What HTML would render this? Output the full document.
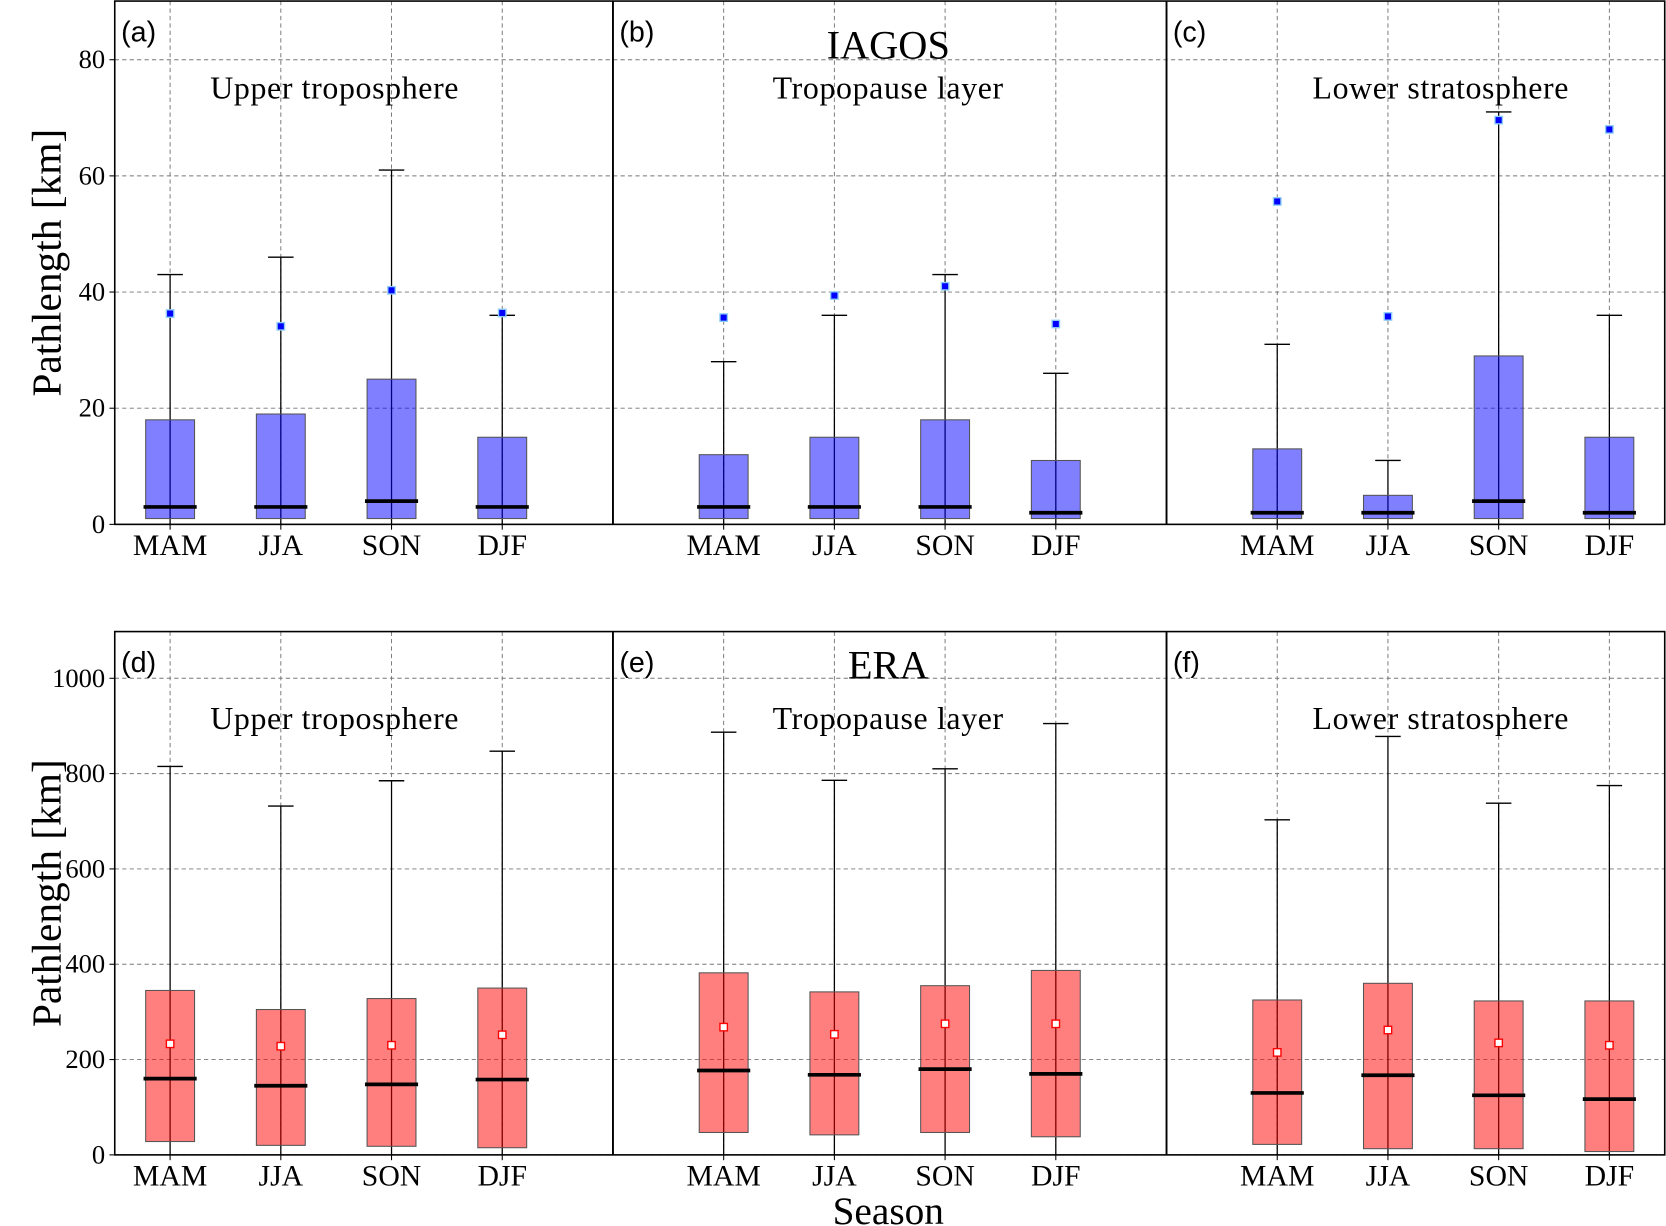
<!DOCTYPE html>
<html><head><meta charset="utf-8"><style>
html,body{margin:0;padding:0;background:#fff}
svg{display:block}
text{font-family:"Liberation Serif",serif;fill:#000}
.sans{font-family:"Liberation Sans",sans-serif}
</style></head><body>
<svg id="fig" width="1666" height="1226" viewBox="0 0 1568 1155" preserveAspectRatio="none"></svg>
<script>
const seasons = ["MAM","JJA","SON","DJF"];
const panelLetters = ["(a)","(b)","(c)","(d)","(e)","(f)"];
const regionTitles = ["Upper troposphere","Tropopause layer","Lower stratosphere"];
// IAGOS (top): per panel per season
const topWhiskerHi = [[43,46,61,36],[28,36,43,26],[31,11,71,36]];
const topQ3 = [[18,19,25,15],[12,15,18,11],[13,5,29,15]];
const topMedian = [[3,3,4,3],[3,3,3,2],[2,2,4,2]];
const topQ1 = [[1,1,1,1],[1,1,1,1],[1,1,1,1]];
const topMean = [[36.3,34.1,40.3,36.4],[35.6,39.4,41,34.5],[55.6,35.8,69.6,68]];
const topTicks = [0,20,40,60,80];
// ERA (bottom)
const botWhiskerHi = [[815,732,785,847],[887,786,810,905],[703,878,738,775]];
const botQ3 = [[345,305,328,350],[382,342,355,387],[325,360,323,323]];
const botMedian = [[160,145,148,158],[177,168,180,170],[130,167,125,117]];
const botQ1 = [[28,20,18,15],[47,42,47,38],[22,13,13,7]];
const botMean = [[233,228,230,252],[268,253,275,275],[215,262,235,230]];
const botTicks = [0,200,400,600,800,1000];

const NS="http://www.w3.org/2000/svg";
const svg=document.getElementById('fig');
function mk(tag,attrs,parent,txt){const e=document.createElementNS(NS,tag);for(const k in attrs)e.setAttribute(k,attrs[k]);if(txt!==undefined)e.textContent=txt;(parent||svg).appendChild(e);return e;}
const X0=108,U=104.2;
function xPos(p){return X0+p*U;}
function catPos(panel,i){return panel*5+0.5+i;}

function drawRow(cfg){
  const {yTop,yBot,yMax,ticks,whi,q3,med,q1,mean,fill,meanFill,meanStroke,letters,title,ylab,row,titleY}=cfg;
  const y=v=>yBot-(v/yMax)*(yBot-yTop);
  const xEnd=xPos(14);
  const g=mk('g',{});
  
  
  ticks.forEach(t=>{
    const l=mk('line',{x1:X0,x2:xEnd,y1:y(t),y2:y(t),stroke:'#777','stroke-width':0.9,'stroke-dasharray':'4,3'},g);
    
    const tk=mk('line',{x1:X0-5,x2:X0,y1:y(t),y2:y(t),stroke:'#000','stroke-width':1},g);
    
    const tx=mk('text',{x:X0-9,y:y(t)+8,'text-anchor':'end','font-size':25},g,String(t));
    
  });
  for(let p=0;p<3;p++){
    seasons.forEach((s,i)=>{
      const cx=xPos(catPos(p,i));
      const gl=mk('line',{x1:cx,x2:cx,y1:yTop,y2:yBot,stroke:'#777','stroke-width':0.9,'stroke-dasharray':'4,3'},g);
      
      const tk=mk('line',{x1:cx,x2:cx,y1:yBot,y2:yBot+5,stroke:'#000','stroke-width':1},g);
      
      const lb=mk('text',{x:cx,y:yBot+29,'text-anchor':'middle','font-size':28},g,s);
      
      const hw=23;
      const wl=mk('line',{x1:cx,x2:cx,y1:y(whi[p][i]),y2:y(0),stroke:'#000','stroke-width':1.2},g);
      
      const cap=mk('line',{x1:cx-12,x2:cx+12,y1:y(whi[p][i]),y2:y(whi[p][i]),stroke:'#000','stroke-width':1.3},g);
      
      const bx=mk('rect',{x:cx-hw,y:y(q3[p][i]),width:2*hw,height:y(q1[p][i])-y(q3[p][i]),fill:fill,'fill-opacity':0.5,stroke:'#555','stroke-width':1},g);
      
      const md=mk('line',{x1:cx-25,x2:cx+25,y1:y(med[p][i]),y2:y(med[p][i]),stroke:'#000','stroke-width':3.5},g);
      
      const mn=mk('rect',{x:cx-3.5,y:y(mean[p][i])-3.5,width:7,height:7,fill:meanFill,stroke:meanStroke,'stroke-width':1.3},g);
      
    });
    const lx=p===0?X0:xPos(p*5-0.5);
    const lt=mk('text',{x:lx+6,y:yTop+38,'font-size':27,class:'sans'},g,letters[p]);
    
    const rt=mk('text',{x:[315,836,1356][p],y:yTop+92,'text-anchor':'middle','font-size':30,'letter-spacing':0.6},g,regionTitles[p]);
    
  }
  const tt=mk('text',{x:836,y:titleY,'text-anchor':'middle','font-size':38},g,title);
  
  const fr=mk('rect',{x:X0,y:yTop,width:xEnd-X0,height:yBot-yTop,fill:'none',stroke:'#000','stroke-width':1.5},g);
  
  [4.5,9.5].forEach(p=>{
    const d=mk('line',{x1:xPos(p),x2:xPos(p),y1:yTop,y2:yBot,stroke:'#000','stroke-width':1.8},g);
    
  });
  const yl=mk('text',{x:0,y:0,'text-anchor':'middle','font-size':39,transform:`translate(57,${(yTop+yBot)/2}) rotate(-90)`},g,ylab);
  
}
drawRow({row:'iagos',yTop:1,yBot:494,yMax:90.1,titleY:55,ticks:topTicks,whi:topWhiskerHi,q3:topQ3,med:topMedian,q1:topQ1,mean:topMean,fill:'#0000ff',meanFill:'#0000ff',meanStroke:'#8ecdf5',letters:panelLetters.slice(0,3),title:'IAGOS',ylab:'Pathlength [km]'});
drawRow({row:'era',yTop:595,yBot:1088,yMax:1098,titleY:639,ticks:botTicks,whi:botWhiskerHi,q3:botQ3,med:botMedian,q1:botQ1,mean:botMean,fill:'#ff0000',meanFill:'#ffffff',meanStroke:'#ff0000',letters:panelLetters.slice(3,6),title:'ERA',ylab:'Pathlength [km]'});
const xl=mk('text',{x:836,y:1153,'text-anchor':'middle','font-size':37},svg,'Season');


</script>
</body></html>
